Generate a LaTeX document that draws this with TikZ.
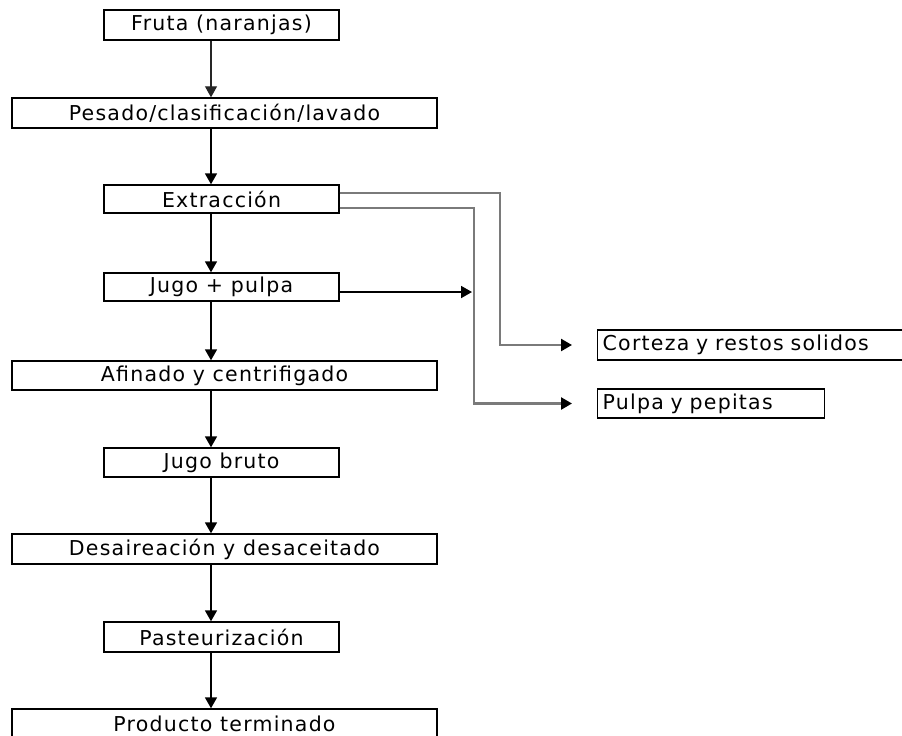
\documentclass[tikz,border=0pt]{standalone}
\usepackage{fontspec}
\setmainfont{DejaVu Sans}[LetterSpace=6]
\usetikzlibrary{arrows.meta}

\definecolor{linegray}{HTML}{7A7A7A}

\tikzset{
  stepbox/.style={draw=black, line width=1.4pt, inner sep=0pt, minimum height=30pt,
    font=\fontsize{20.5}{24}\selectfont},
  sidebox/.style={draw=black, line width=1.4pt, anchor=west, inner xsep=5pt, inner ysep=0pt,
    minimum height=30pt, align=left, font=\fontsize{20.5}{24}\selectfont},
  tip/.style={-{Triangle[width=12pt,length=11pt]}},
  flow/.style={draw=black, line width=1.8pt, tip},
  thinflow/.style={draw=black!85, line width=1.1pt, tip},
  waste/.style={draw=linegray, line width=2.4pt, -{Triangle[width=12pt,length=11pt,color=black]}},
}

\begin{document}
\begin{tikzpicture}[x=1pt, y=-1pt]
  \useasboundingbox (0,0) rectangle (902,736);
  \fill[white] (0,0) rectangle (902,736);

  % main process line
  \node[stepbox, minimum width=235pt] (fruta)  at (221.5,25)  {Fruta (naranjas)};
  \node[stepbox, minimum width=425pt] (pesado) at (224.5,113) {Pesado/clasificación/lavado};
  \node[stepbox, minimum width=235pt, minimum height=28pt] (extr) at (221.5,199) {Extracción};
  \node[stepbox, minimum width=235pt, minimum height=28pt] (jugo) at (221.5,287) {Jugo + pulpa};
  \node[stepbox, minimum width=425pt, minimum height=29pt] (afin) at (224.5,375.5) {Afinado y centrifigado};
  \node[stepbox, minimum width=235pt, minimum height=29pt] (bruto) at (221.5,462.5) {Jugo bruto};
  \node[stepbox, minimum width=425pt] (desa)   at (224.5,549) {Desaireación y desaceitado};
  \node[stepbox, minimum width=235pt] (past)   at (221.5,637) {Pasteurización};
  \node[stepbox, minimum width=425pt] (prod)   at (224.5,724) {Producto terminado};

  % by-products
  \node[sidebox, text width=298pt] (cort) at (597,345) {Corteza y restos solidos};
  \node[sidebox, text width=217pt, minimum height=29pt] (pulp) at (597,403.5) {Pulpa y pepitas};

  % vertical spine of the arrows
  \coordinate (spine) at (211,0);
  \draw[thinflow] (fruta.south -| spine) -- (pesado.north -| spine);
  \draw[flow] (pesado.south -| spine) -- (extr.north -| spine);
  \draw[flow] (extr.south -| spine) -- (jugo.north -| spine);
  \draw[flow] (jugo.south -| spine) -- (afin.north -| spine);
  \draw[flow] (afin.south -| spine) -- (bruto.north -| spine);
  \draw[flow] (bruto.south -| spine) -- (desa.north -| spine);
  \draw[flow] (desa.south -| spine) -- (past.north -| spine);
  \draw[flow] (past.south -| spine) -- (prod.north -| spine);

  % juice side arrow
  \coordinate (jgend) at (472,292);
  \draw[flow] (jugo.east |- jgend) -- (jgend);

  % waste streams from the extractor
  \draw[waste] ([yshift=6.3pt]extr.east) -| ([xshift=-97pt]cort.west) -- ([xshift=-25pt]cort.west);
  \draw[waste] ([yshift=-9pt]extr.east) -| ([xshift=-123pt]pulp.west) -- ([xshift=-25pt]pulp.west);
\end{tikzpicture}
\end{document}
